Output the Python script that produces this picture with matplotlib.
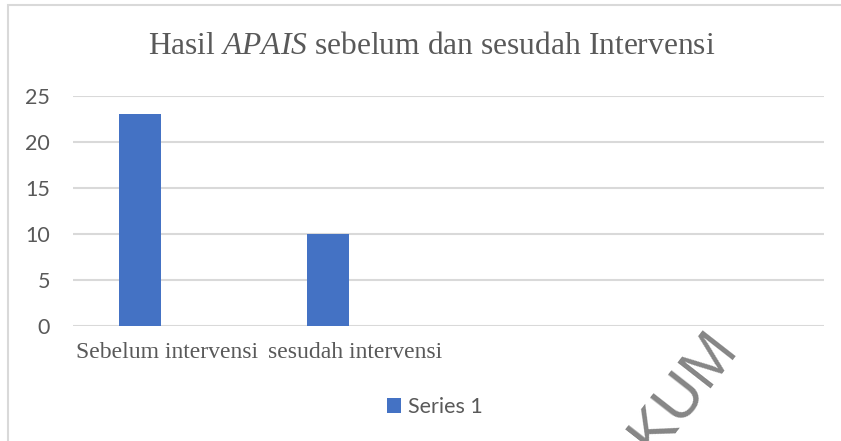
import numpy as np
import matplotlib
matplotlib.use("Agg")
import matplotlib.pyplot as plt
from matplotlib.patches import Rectangle

# ---- data ----
categories = ["Sebelum intervensi", "sesudah intervensi", "", ""]
series1 = [23, 10, np.nan, np.nan]
series_name = "Series 1"
yticks = [0, 5, 10, 15, 20, 25]
title_plain1 = "Hasil "
title_italic = "APAIS"
title_plain2 = " sebelum dan sesudah Intervensi"
watermark = "KUM"

plt.rcParams['mathtext.fontset'] = 'custom'
plt.rcParams['mathtext.rm'] = 'Liberation Serif'
plt.rcParams['mathtext.it'] = 'Liberation Serif:italic'

W, H = 841, 441
fig = plt.figure(figsize=(W / 100, H / 100), dpi=100)
fig.patch.set_facecolor('white')

ax = fig.add_axes([73 / W, 1 - 325.7 / H, (824.3 - 73) / W, (325.7 - 95.7) / H])
x = np.arange(len(categories))
bar_color = '#4472C4'
bars = ax.bar(x - 0.142, series1, width=0.224, color=bar_color, label=series_name, zorder=3)
ax.set_xlim(-0.5, len(categories) - 0.5)
ax.set_ylim(0, 25)
ax.set_yticks(yticks)
ax.set_yticklabels([str(v) for v in yticks], fontfamily='Lato', fontsize=15.5, color='#595959')
ax.set_xticks(x)
ax.set_xticklabels(categories, fontfamily='Liberation Serif', fontsize=17, color='#595959')
ax.tick_params(axis='both', length=0)
ax.tick_params(axis='y', pad=16.5)
ax.tick_params(axis='x', pad=12)
ax.grid(axis='y', color='#D9D9D9', linewidth=1.5, zorder=0)
for s in ax.spines.values():
    s.set_visible(False)
ax.set_facecolor('none')

# title
fig.text(431.5 / W, 1 - 47 / H,
         title_plain1 + r"$\mathit{" + title_italic + "}$" + title_plain2,
         ha='center', va='center', fontfamily='Liberation Serif', fontsize=22.7, color='#595959')

# legend
fig.legend(handles=[bars], labels=[series_name], loc='center',
           bbox_to_anchor=(435 / W, 1 - 407 / H), frameon=False,
           prop={'family': 'Lato', 'size': 15.5}, labelcolor='#595959',
           handlelength=0.65, handleheight=0.65, handletextpad=0.3)

# chart border
fig.patches.append(Rectangle((8 / W, -0.1), 1.2, 1 - 5 / H + 0.1, transform=fig.transFigure,
                             fill=False, edgecolor='#D9D9D9', linewidth=1.5))

# watermark
fig.text(683 / W, 1 - 392 / H, watermark, rotation=52, ha='center', va='center',
         fontfamily='Liberation Sans', fontsize=44, color='#7F7F7F', alpha=0.95)

fig.savefig('out.png', dpi=100)
